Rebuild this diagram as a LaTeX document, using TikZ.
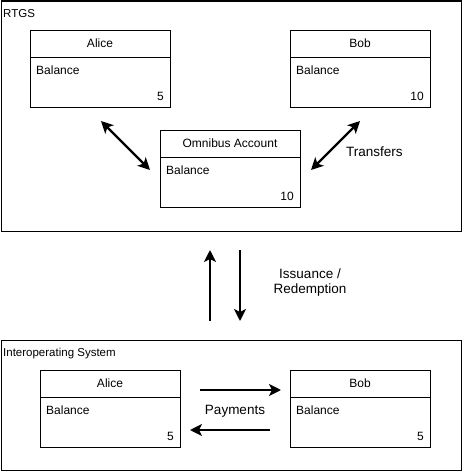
\documentclass[tikz,border=0pt]{standalone}
\usepackage{fontspec}
\setmainfont{Liberation Sans}
\usetikzlibrary{arrows.meta}
\begin{document}
\begin{tikzpicture}[x=1pt,y=-1pt,
  frame/.style={draw,line width=1pt},
  acct/.style={draw,line width=1pt,minimum width=140pt,minimum height=77pt,inner sep=0pt,anchor=north west},
  ttl/.style={font=\fontsize{12}{14}\selectfont,inner sep=0pt},
  bal/.style={font=\fontsize{12}{14}\selectfont,inner sep=0pt,anchor=west},
  val/.style={font=\fontsize{12}{14}\selectfont,inner sep=0pt,anchor=east},
  lbl/.style={font=\fontsize{11.5}{14}\selectfont,inner sep=0pt,anchor=west},
  big/.style={font=\fontsize{13.5}{16}\selectfont,inner sep=0pt,align=center},
  flow/.style={line width=2.4pt,-{Stealth[length=12pt,width=12pt,inset=3pt]}},
  flow2/.style={line width=2.4pt,{Stealth[length=12pt,width=12pt,inset=3pt]}-{Stealth[length=12pt,width=12pt,inset=3pt]}}
]
\useasboundingbox (0,0) rectangle (461,471);
% containers
\node[frame,minimum width=460pt,minimum height=230pt,anchor=north west,inner sep=0pt] (rtgs) at (0.5,0.5) {};
\node[frame,minimum width=460pt,minimum height=130pt,anchor=north west,inner sep=0pt] (ios) at (0.5,340) {};
\node[lbl] (rtgsl) at (3,13.5) {RTGS};
\node[lbl] (iosl) at (3,354) {Interoperating System};
% RTGS Alice
\node[acct] (ra) at (30,30) {};
\draw[line width=1pt] (ra.west |- 0,57) -- (ra.east |- 0,57);
\node[ttl] (rat) at (100,43.5) {Alice};
\node[bal] (rab) at (36,70) {Balance};
\node[val] (rav) at (164,96) {5};
% RTGS Bob
\node[acct] (rb) at (290,30) {};
\draw[line width=1pt] (rb.west |- 0,57) -- (rb.east |- 0,57);
\node[ttl] (rbt) at (360,43.5) {Bob};
\node[bal] (rbb) at (296,70) {Balance};
\node[val] (rbv) at (424,96) {10};
% Omnibus
\node[acct] (om) at (160,130) {};
\draw[line width=1pt] (om.west |- 0,157) -- (om.east |- 0,157);
\node[ttl] (omt) at (230,143.5) {Omnibus Account};
\node[bal] (omb) at (166,170) {Balance};
\node[val] (omv) at (294,196) {10};
% Interop Alice
\node[acct] (ia) at (40,370) {};
\draw[line width=1pt] (ia.west |- 0,397) -- (ia.east |- 0,397);
\node[ttl] (iat) at (110,383.5) {Alice};
\node[bal] (iab) at (46,410) {Balance};
\node[val] (iav) at (174,436) {5};
% Interop Bob
\node[acct] (ib) at (290,370) {};
\draw[line width=1pt] (ib.west |- 0,397) -- (ib.east |- 0,397);
\node[ttl] (ibt) at (360,383.5) {Bob};
\node[bal] (ibb) at (296,410) {Balance};
\node[val] (ibv) at (424,436) {5};
% arrows
\coordinate (a1) at (101,121);
\coordinate (a2) at (150,170);
\draw[flow2] (a1) -- (a2);
\coordinate (b1) at (360,121);
\coordinate (b2) at (311,170);
\draw[flow2] (b1) -- (b2);
\node[big,anchor=west] (tr) at (346,151.5) {Transfers};
\coordinate (u1) at (210,321);
\coordinate (u2) at (210,250);
\draw[flow] (u1) -- (u2);
\coordinate (d1) at (240,250);
\coordinate (d2) at (240,321);
\draw[flow] (d1) -- (d2);
\node[big] (iss) at (310,282.5) {Issuance /\\[-1pt]Redemption};
\coordinate (p1) at (200,390);
\coordinate (p2) at (281,390);
\draw[flow] (p1) -- (p2);
\coordinate (q1) at (270,430);
\coordinate (q2) at (190,430);
\draw[flow] (q1) -- (q2);
\node[big] (pay) at (235,411) {Payments};
\end{tikzpicture}
\end{document}
